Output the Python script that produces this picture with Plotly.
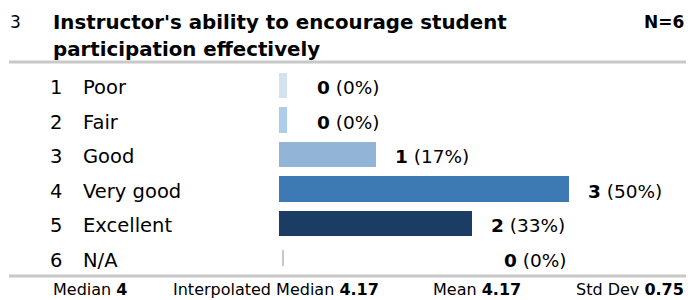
import plotly.graph_objects as go

# ---- data ----
codes = [1, 2, 3, 4, 5, 6]
categories = ["Poor", "Fair", "Good", "Very good", "Excellent", "N/A"]
counts = [0, 0, 1, 3, 2, 0]
percents = ["0%", "0%", "17%", "50%", "33%", "0%"]
bar_colors = ["#d4e2f0", "#abcdeb", "#92b4d6", "#3d7ab4", "#1b3d63", "#c8c8c8"]
question_no = "3"
question_lines = ["Instructor's ability to encourage student", "participation effectively"]
n_label = "N=6"
stats = [("Median", "4"), ("Interpolated Median", "4.17"), ("Mean", "4.17"), ("Std Dev", "0.75")]

W, H = 688, 300
FONT = "DejaVu Sans, Verdana, sans-serif"
PX_PER_UNIT = 96.5
X0_PX = 279
MIN_BAR = 8 / PX_PER_UNIT

def px(x):
    return x / W

def py(y):
    return 1 - y / H

# bar geometry (styling)
disp = []
bases = []
widths = []
for c, v in zip(categories, counts):
    if c == "N/A":
        disp.append(2 / PX_PER_UNIT)
        bases.append(2.5 / PX_PER_UNIT)
        widths.append(0.46)
    else:
        disp.append(max(v, MIN_BAR))
        bases.append(0)
        widths.append(0.75)

fig = go.Figure()
fig.add_trace(go.Bar(
    y=codes, x=disp, base=bases, width=widths, orientation="h",
    marker=dict(color=bar_colors, line=dict(width=0)),
    hoverinfo="skip", showlegend=False,
))

# y axis: row 1 center at 85.5px, pitch 34.5px
ROW0, PITCH = 85.5, 34.5
y_top = 1 - ROW0 / PITCH
y_bot = 1 + (H - ROW0) / PITCH
fig.update_layout(
    width=W, height=H,
    margin=dict(l=0, r=0, t=0, b=0),
    paper_bgcolor="white", plot_bgcolor="white",
    bargap=0,
    xaxis=dict(range=[-X0_PX / PX_PER_UNIT, (W - X0_PX) / PX_PER_UNIT], visible=False, fixedrange=True),
    yaxis=dict(range=[y_bot, y_top], visible=False, fixedrange=True),
    font=dict(family=FONT, color="#000000"),
)

ann = []
label_pad = [29, 29, 18, 18, 18, 219]
for i, (code, cat, v, p) in enumerate(zip(codes, categories, counts, percents)):
    ann.append(dict(x=px(48), xref="paper", y=code, yref="y", text=str(code), yshift=-2,
                    showarrow=False, xanchor="left", yanchor="middle", font=dict(size=19.5)))
    ann.append(dict(x=px(81), xref="paper", y=code, yref="y", text=cat, yshift=-2,
                    showarrow=False, xanchor="left", yanchor="middle", font=dict(size=19.5)))
    ann.append(dict(x=bases[i] + disp[i], xref="x", y=code, yref="y", yshift=-2,
                    text=f"<b>{v}</b> ({p})", xshift=label_pad[i] - 1,
                    showarrow=False, xanchor="left", yanchor="middle", font=dict(size=18.5)))

# header
ann.append(dict(x=px(8), xref="paper", y=py(22), yref="paper", text=question_no,
                showarrow=False, xanchor="left", yanchor="middle", font=dict(size=17)))
for k, line in enumerate(question_lines):
    ann.append(dict(x=px(51), xref="paper", y=py(22 + 28 * k), yref="paper", text=f"<b>{line}</b>",
                    showarrow=False, xanchor="left", yanchor="middle", align="left",
                    font=dict(size=19.8)))
ann.append(dict(x=px(686), xref="paper", y=py(22), yref="paper", text=f"<b>{n_label}</b>",
                showarrow=False, xanchor="right", yanchor="middle", font=dict(size=17)))

# footer stats
stat_x = [(51, "left"), (171, "left"), (431, "left"), (686, "right")]
for (name, val), (xp, anc) in zip(stats, stat_x):
    ann.append(dict(x=px(xp), xref="paper", y=py(289), yref="paper",
                    text=f"{name} <b>{val}</b>", showarrow=False,
                    xanchor=anc, yanchor="middle", font=dict(size=16)))

fig.update_layout(annotations=ann)

shapes = []
for yy in (62, 276):
    shapes.append(dict(type="line", xref="paper", yref="paper",
                       x0=px(9), x1=px(686), y0=py(yy), y1=py(yy),
                       line=dict(color="#c8c8c8", width=3)))
fig.update_layout(shapes=shapes)

fig.write_html("out.html", config={"displayModeBar": False},
               post_script="document.body.style.margin='0';document.body.style.overflow='hidden';")
